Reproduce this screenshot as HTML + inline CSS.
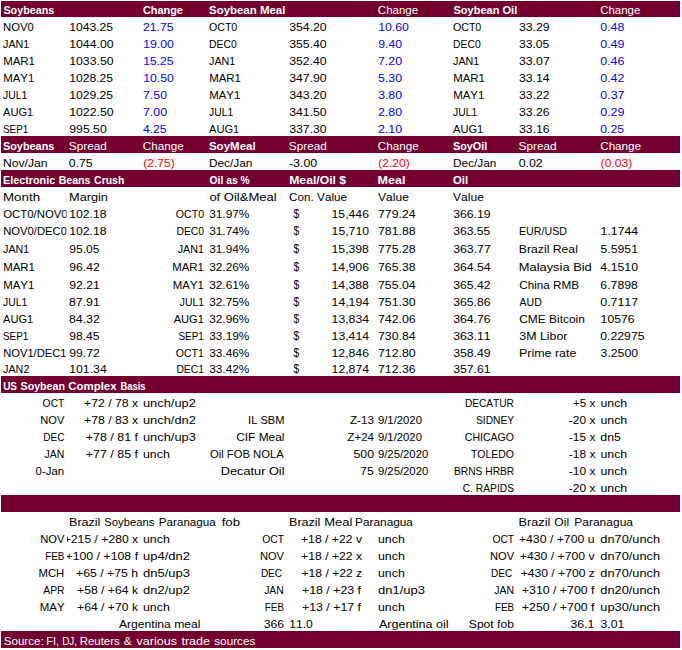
<!DOCTYPE html>
<html lang="en"><head><meta charset="utf-8"><title>Soybean Complex</title>
<style>
html,body{margin:0;padding:0;background:#fff}
svg{display:block}
text{font-family:"Liberation Sans",sans-serif;font-size:11.5px;font-kerning:none;white-space:pre}
.b{font-weight:bold}.w{fill:#fff}.u{fill:#0000ff}.r{fill:#ff0000}
</style></head><body>
<svg width="682" height="650" viewBox="0 0 682 650">
<defs><clipPath id="ca"><rect x="0" y="0" width="66.6" height="650"/></clipPath><clipPath id="cb"><rect x="67" y="0" width="615" height="650"/></clipPath></defs>
<rect x="0" y="0" width="682" height="650" fill="#fff"/>
<rect x="1" y="1" width="679" height="16" fill="#73002F"/>
<rect x="1" y="136" width="679" height="17" fill="#73002F"/>
<rect x="1" y="170" width="679" height="17" fill="#73002F"/>
<rect x="1" y="376" width="679" height="17" fill="#73002F"/>
<rect x="1" y="495" width="679" height="17" fill="#73002F"/>
<rect x="1" y="631" width="679" height="17" fill="#73002F"/>
<text x="3.44" y="14.0" textLength="50.75" lengthAdjust="spacingAndGlyphs" class="b w">Soybeans</text>
<text x="143.00" y="14.0" textLength="39.92" lengthAdjust="spacingAndGlyphs" class="b w">Change</text>
<text x="209.02" y="14.0" textLength="76.34" lengthAdjust="spacingAndGlyphs" class="b w">Soybean Meal</text>
<text x="377.87" y="14.0" textLength="40.30" lengthAdjust="spacingAndGlyphs" class="w">Change</text>
<text x="453.43" y="14.0" textLength="63.80" lengthAdjust="spacingAndGlyphs" class="b w">Soybean Oil</text>
<text x="600.17" y="14.0" textLength="40.19" lengthAdjust="spacingAndGlyphs" class="w">Change</text>
<text x="3.04" y="31.0" textLength="30.75" lengthAdjust="spacingAndGlyphs">NOV0</text>
<text x="69.23" y="31.0" textLength="43.91" lengthAdjust="spacingAndGlyphs">1043.25</text>
<text x="142.99" y="31.0" textLength="30.48" lengthAdjust="spacingAndGlyphs" class="u">21.75</text>
<text x="208.97" y="31.0" textLength="28.30" lengthAdjust="spacingAndGlyphs">OCT0</text>
<text x="289.15" y="31.0" textLength="37.57" lengthAdjust="spacingAndGlyphs">354.20</text>
<text x="378.22" y="31.0" textLength="30.66" lengthAdjust="spacingAndGlyphs" class="u">10.60</text>
<text x="452.97" y="31.0" textLength="28.30" lengthAdjust="spacingAndGlyphs">OCT0</text>
<text x="518.95" y="31.0" textLength="30.72" lengthAdjust="spacingAndGlyphs">33.29</text>
<text x="600.26" y="31.0" textLength="24.05" lengthAdjust="spacingAndGlyphs" class="u">0.48</text>
<text x="3.05" y="48.0" textLength="26.27" lengthAdjust="spacingAndGlyphs">JAN1</text>
<text x="69.22" y="48.0" textLength="44.34" lengthAdjust="spacingAndGlyphs">1044.00</text>
<text x="143.22" y="48.0" textLength="30.66" lengthAdjust="spacingAndGlyphs" class="u">19.00</text>
<text x="209.06" y="48.0" textLength="27.63" lengthAdjust="spacingAndGlyphs">DEC0</text>
<text x="289.15" y="48.0" textLength="37.57" lengthAdjust="spacingAndGlyphs">355.40</text>
<text x="378.28" y="48.0" textLength="23.76" lengthAdjust="spacingAndGlyphs" class="u">9.40</text>
<text x="453.06" y="48.0" textLength="27.63" lengthAdjust="spacingAndGlyphs">DEC0</text>
<text x="518.96" y="48.0" textLength="30.31" lengthAdjust="spacingAndGlyphs">33.05</text>
<text x="600.26" y="48.0" textLength="24.19" lengthAdjust="spacingAndGlyphs" class="u">0.49</text>
<text x="3.15" y="65.0" textLength="31.82" lengthAdjust="spacingAndGlyphs">MAR1</text>
<text x="69.22" y="65.0" textLength="44.34" lengthAdjust="spacingAndGlyphs">1033.50</text>
<text x="143.23" y="65.0" textLength="30.23" lengthAdjust="spacingAndGlyphs" class="u">15.25</text>
<text x="209.05" y="65.0" textLength="26.27" lengthAdjust="spacingAndGlyphs">JAN1</text>
<text x="289.15" y="65.0" textLength="37.57" lengthAdjust="spacingAndGlyphs">352.40</text>
<text x="378.00" y="65.0" textLength="24.04" lengthAdjust="spacingAndGlyphs" class="u">7.20</text>
<text x="453.05" y="65.0" textLength="26.27" lengthAdjust="spacingAndGlyphs">JAN1</text>
<text x="518.95" y="65.0" textLength="30.79" lengthAdjust="spacingAndGlyphs">33.07</text>
<text x="600.26" y="65.0" textLength="24.13" lengthAdjust="spacingAndGlyphs" class="u">0.46</text>
<text x="3.15" y="82.0" textLength="31.10" lengthAdjust="spacingAndGlyphs">MAY1</text>
<text x="69.23" y="82.0" textLength="43.91" lengthAdjust="spacingAndGlyphs">1028.25</text>
<text x="143.22" y="82.0" textLength="30.66" lengthAdjust="spacingAndGlyphs" class="u">10.50</text>
<text x="209.15" y="82.0" textLength="31.82" lengthAdjust="spacingAndGlyphs">MAR1</text>
<text x="289.15" y="82.0" textLength="37.57" lengthAdjust="spacingAndGlyphs">347.90</text>
<text x="378.11" y="82.0" textLength="23.93" lengthAdjust="spacingAndGlyphs" class="u">5.30</text>
<text x="453.15" y="82.0" textLength="31.82" lengthAdjust="spacingAndGlyphs">MAR1</text>
<text x="518.95" y="82.0" textLength="30.74" lengthAdjust="spacingAndGlyphs">33.14</text>
<text x="600.26" y="82.0" textLength="24.11" lengthAdjust="spacingAndGlyphs" class="u">0.42</text>
<text x="3.06" y="99.0" textLength="24.16" lengthAdjust="spacingAndGlyphs">JUL1</text>
<text x="69.23" y="99.0" textLength="43.91" lengthAdjust="spacingAndGlyphs">1029.25</text>
<text x="143.00" y="99.0" textLength="24.04" lengthAdjust="spacingAndGlyphs" class="u">7.50</text>
<text x="209.15" y="99.0" textLength="31.10" lengthAdjust="spacingAndGlyphs">MAY1</text>
<text x="289.15" y="99.0" textLength="37.57" lengthAdjust="spacingAndGlyphs">343.20</text>
<text x="378.15" y="99.0" textLength="23.89" lengthAdjust="spacingAndGlyphs" class="u">3.80</text>
<text x="453.15" y="99.0" textLength="31.10" lengthAdjust="spacingAndGlyphs">MAY1</text>
<text x="518.95" y="99.0" textLength="30.64" lengthAdjust="spacingAndGlyphs">33.22</text>
<text x="600.26" y="99.0" textLength="24.25" lengthAdjust="spacingAndGlyphs" class="u">0.37</text>
<text x="3.03" y="116.0" textLength="30.27" lengthAdjust="spacingAndGlyphs">AUG1</text>
<text x="69.22" y="116.0" textLength="44.34" lengthAdjust="spacingAndGlyphs">1022.50</text>
<text x="143.00" y="116.0" textLength="24.04" lengthAdjust="spacingAndGlyphs" class="u">7.00</text>
<text x="209.06" y="116.0" textLength="24.16" lengthAdjust="spacingAndGlyphs">JUL1</text>
<text x="289.15" y="116.0" textLength="37.57" lengthAdjust="spacingAndGlyphs">341.50</text>
<text x="377.98" y="116.0" textLength="24.07" lengthAdjust="spacingAndGlyphs" class="u">2.80</text>
<text x="453.06" y="116.0" textLength="24.16" lengthAdjust="spacingAndGlyphs">JUL1</text>
<text x="518.95" y="116.0" textLength="30.67" lengthAdjust="spacingAndGlyphs">33.26</text>
<text x="600.26" y="116.0" textLength="24.19" lengthAdjust="spacingAndGlyphs" class="u">0.29</text>
<text x="2.91" y="133.0" textLength="25.37" lengthAdjust="spacingAndGlyphs">SEP1</text>
<text x="69.28" y="133.0" textLength="37.44" lengthAdjust="spacingAndGlyphs">995.50</text>
<text x="142.95" y="133.0" textLength="23.68" lengthAdjust="spacingAndGlyphs" class="u">4.25</text>
<text x="209.03" y="133.0" textLength="30.27" lengthAdjust="spacingAndGlyphs">AUG1</text>
<text x="289.15" y="133.0" textLength="37.57" lengthAdjust="spacingAndGlyphs">337.30</text>
<text x="377.98" y="133.0" textLength="24.07" lengthAdjust="spacingAndGlyphs" class="u">2.10</text>
<text x="453.03" y="133.0" textLength="30.27" lengthAdjust="spacingAndGlyphs">AUG1</text>
<text x="518.95" y="133.0" textLength="30.67" lengthAdjust="spacingAndGlyphs">33.16</text>
<text x="600.27" y="133.0" textLength="23.77" lengthAdjust="spacingAndGlyphs" class="u">0.25</text>
<text x="2.93" y="150.0" textLength="51.42" lengthAdjust="spacingAndGlyphs" class="b w">Soybeans</text>
<text x="68.82" y="150.0" textLength="37.99" lengthAdjust="spacingAndGlyphs" class="w">Spread</text>
<text x="142.84" y="150.0" textLength="40.80" lengthAdjust="spacingAndGlyphs" class="w">Change</text>
<text x="208.92" y="150.0" textLength="46.79" lengthAdjust="spacingAndGlyphs" class="b w">SoyMeal</text>
<text x="288.82" y="150.0" textLength="37.99" lengthAdjust="spacingAndGlyphs" class="w">Spread</text>
<text x="377.84" y="150.0" textLength="40.80" lengthAdjust="spacingAndGlyphs" class="w">Change</text>
<text x="452.93" y="150.0" textLength="34.42" lengthAdjust="spacingAndGlyphs" class="b w">SoyOil</text>
<text x="518.62" y="150.0" textLength="37.99" lengthAdjust="spacingAndGlyphs" class="w">Spread</text>
<text x="600.24" y="150.0" textLength="40.80" lengthAdjust="spacingAndGlyphs" class="w">Change</text>
<text x="2.96" y="167.0" textLength="44.68" lengthAdjust="spacingAndGlyphs">Nov/Jan</text>
<text x="68.87" y="167.0" textLength="23.77" lengthAdjust="spacingAndGlyphs">0.75</text>
<text x="143.23" y="167.0" textLength="31.63" lengthAdjust="spacingAndGlyphs" class="r">(2.75)</text>
<text x="208.93" y="167.0" textLength="43.50" lengthAdjust="spacingAndGlyphs">Dec/Jan</text>
<text x="288.94" y="167.0" textLength="28.24" lengthAdjust="spacingAndGlyphs">-3.00</text>
<text x="378.23" y="167.0" textLength="31.63" lengthAdjust="spacingAndGlyphs" class="r">(2.20)</text>
<text x="452.93" y="167.0" textLength="43.50" lengthAdjust="spacingAndGlyphs">Dec/Jan</text>
<text x="518.66" y="167.0" textLength="24.11" lengthAdjust="spacingAndGlyphs">0.02</text>
<text x="600.63" y="167.0" textLength="31.63" lengthAdjust="spacingAndGlyphs" class="r">(0.03)</text>
<text y="184" class="b w"><tspan x="3.03" textLength="52.14" lengthAdjust="spacingAndGlyphs">Electronic</tspan> <tspan x="58.64" textLength="31.84" lengthAdjust="spacingAndGlyphs">Beans</tspan> <tspan x="94.12" textLength="30.18" lengthAdjust="spacingAndGlyphs">Crush</tspan></text>
<text x="209.53" y="184.0" textLength="40.20" lengthAdjust="spacingAndGlyphs" class="b w">Oil as %</text>
<text x="289.23" y="184.0" textLength="56.89" lengthAdjust="spacingAndGlyphs" class="b w">Meal/Oil $</text>
<text x="377.61" y="184.0" textLength="27.93" lengthAdjust="spacingAndGlyphs" class="b w">Meal</text>
<text x="452.88" y="184.0" textLength="15.17" lengthAdjust="spacingAndGlyphs" class="b w">Oil</text>
<text x="2.99" y="201.0" textLength="37.14" lengthAdjust="spacingAndGlyphs">Month</text>
<text x="69.04" y="201.0" textLength="38.93" lengthAdjust="spacingAndGlyphs">Margin</text>
<text x="209.40" y="201.0" textLength="67.22" lengthAdjust="spacingAndGlyphs">of Oil&amp;Meal</text>
<text x="289.05" y="201.0" textLength="58.02" lengthAdjust="spacingAndGlyphs">Con. Value</text>
<text x="377.99" y="201.0" textLength="30.87" lengthAdjust="spacingAndGlyphs">Value</text>
<text x="452.99" y="201.0" textLength="30.87" lengthAdjust="spacingAndGlyphs">Value</text>
<text x="3.21" y="218.0" textLength="64.48" lengthAdjust="spacingAndGlyphs" clip-path="url(#ca)">OCT0/NOV0</text>
<text x="69.22" y="218.0" textLength="37.35" lengthAdjust="spacingAndGlyphs">102.18</text>
<text x="175.77" y="218.0" textLength="28.30" lengthAdjust="spacingAndGlyphs">OCT0</text>
<text x="209.17" y="218.0" textLength="40.22" lengthAdjust="spacingAndGlyphs">31.97%</text>
<text x="293.44" y="218.0" textLength="5.78" lengthAdjust="spacingAndGlyphs" style="font-size:13.5px">$</text>
<text x="331.58" y="218.0" textLength="37.39" lengthAdjust="spacingAndGlyphs">15,446</text>
<text x="378.01" y="218.0" textLength="37.72" lengthAdjust="spacingAndGlyphs">779.24</text>
<text x="453.15" y="218.0" textLength="37.56" lengthAdjust="spacingAndGlyphs">366.19</text>
<text x="3.23" y="235.0" textLength="63.76" lengthAdjust="spacingAndGlyphs" clip-path="url(#ca)">NOV0/DEC0</text>
<text x="69.22" y="235.0" textLength="37.35" lengthAdjust="spacingAndGlyphs">102.18</text>
<text x="176.43" y="235.0" textLength="27.63" lengthAdjust="spacingAndGlyphs">DEC0</text>
<text x="209.17" y="235.0" textLength="40.22" lengthAdjust="spacingAndGlyphs">31.74%</text>
<text x="293.44" y="235.0" textLength="5.78" lengthAdjust="spacingAndGlyphs" style="font-size:13.5px">$</text>
<text x="331.58" y="235.0" textLength="37.46" lengthAdjust="spacingAndGlyphs">15,710</text>
<text x="378.01" y="235.0" textLength="37.58" lengthAdjust="spacingAndGlyphs">781.88</text>
<text x="453.16" y="235.0" textLength="37.15" lengthAdjust="spacingAndGlyphs">363.55</text>
<text x="3.05" y="253.0" textLength="26.27" lengthAdjust="spacingAndGlyphs" clip-path="url(#ca)">JAN1</text>
<text x="69.29" y="253.0" textLength="30.17" lengthAdjust="spacingAndGlyphs">95.05</text>
<text x="177.65" y="253.0" textLength="26.27" lengthAdjust="spacingAndGlyphs">JAN1</text>
<text x="209.17" y="253.0" textLength="40.22" lengthAdjust="spacingAndGlyphs">31.94%</text>
<text x="293.44" y="253.0" textLength="5.78" lengthAdjust="spacingAndGlyphs" style="font-size:13.5px">$</text>
<text x="331.58" y="253.0" textLength="37.31" lengthAdjust="spacingAndGlyphs">15,398</text>
<text x="378.01" y="253.0" textLength="37.58" lengthAdjust="spacingAndGlyphs">775.28</text>
<text x="453.15" y="253.0" textLength="37.63" lengthAdjust="spacingAndGlyphs">363.77</text>
<text x="3.15" y="271.0" textLength="31.82" lengthAdjust="spacingAndGlyphs" clip-path="url(#ca)">MAR1</text>
<text x="69.28" y="271.0" textLength="30.51" lengthAdjust="spacingAndGlyphs">96.42</text>
<text x="172.14" y="271.0" textLength="31.82" lengthAdjust="spacingAndGlyphs">MAR1</text>
<text x="209.17" y="271.0" textLength="40.22" lengthAdjust="spacingAndGlyphs">32.26%</text>
<text x="293.44" y="271.0" textLength="5.78" lengthAdjust="spacingAndGlyphs" style="font-size:13.5px">$</text>
<text x="331.58" y="271.0" textLength="37.39" lengthAdjust="spacingAndGlyphs">14,906</text>
<text x="378.01" y="271.0" textLength="37.58" lengthAdjust="spacingAndGlyphs">765.38</text>
<text x="453.15" y="271.0" textLength="37.58" lengthAdjust="spacingAndGlyphs">364.54</text>
<text x="3.15" y="289.0" textLength="31.10" lengthAdjust="spacingAndGlyphs" clip-path="url(#ca)">MAY1</text>
<text x="69.28" y="289.0" textLength="30.46" lengthAdjust="spacingAndGlyphs">92.21</text>
<text x="172.86" y="289.0" textLength="31.10" lengthAdjust="spacingAndGlyphs">MAY1</text>
<text x="209.17" y="289.0" textLength="40.22" lengthAdjust="spacingAndGlyphs">32.61%</text>
<text x="293.44" y="289.0" textLength="5.78" lengthAdjust="spacingAndGlyphs" style="font-size:13.5px">$</text>
<text x="331.58" y="289.0" textLength="37.31" lengthAdjust="spacingAndGlyphs">14,388</text>
<text x="378.01" y="289.0" textLength="37.72" lengthAdjust="spacingAndGlyphs">755.04</text>
<text x="453.15" y="289.0" textLength="37.48" lengthAdjust="spacingAndGlyphs">365.42</text>
<text x="3.06" y="306.0" textLength="24.16" lengthAdjust="spacingAndGlyphs" clip-path="url(#ca)">JUL1</text>
<text x="69.00" y="306.0" textLength="30.75" lengthAdjust="spacingAndGlyphs">87.91</text>
<text x="179.74" y="306.0" textLength="24.16" lengthAdjust="spacingAndGlyphs">JUL1</text>
<text x="209.17" y="306.0" textLength="40.22" lengthAdjust="spacingAndGlyphs">32.75%</text>
<text x="293.44" y="306.0" textLength="5.78" lengthAdjust="spacingAndGlyphs" style="font-size:13.5px">$</text>
<text x="331.58" y="306.0" textLength="37.46" lengthAdjust="spacingAndGlyphs">14,194</text>
<text x="378.01" y="306.0" textLength="37.72" lengthAdjust="spacingAndGlyphs">751.30</text>
<text x="453.15" y="306.0" textLength="37.51" lengthAdjust="spacingAndGlyphs">365.86</text>
<text x="3.03" y="323.0" textLength="30.27" lengthAdjust="spacingAndGlyphs" clip-path="url(#ca)">AUG1</text>
<text x="69.00" y="323.0" textLength="30.80" lengthAdjust="spacingAndGlyphs">84.32</text>
<text x="173.67" y="323.0" textLength="30.27" lengthAdjust="spacingAndGlyphs">AUG1</text>
<text x="209.17" y="323.0" textLength="40.22" lengthAdjust="spacingAndGlyphs">32.96%</text>
<text x="293.44" y="323.0" textLength="5.78" lengthAdjust="spacingAndGlyphs" style="font-size:13.5px">$</text>
<text x="331.58" y="323.0" textLength="37.46" lengthAdjust="spacingAndGlyphs">13,834</text>
<text x="378.01" y="323.0" textLength="37.66" lengthAdjust="spacingAndGlyphs">742.06</text>
<text x="453.15" y="323.0" textLength="37.51" lengthAdjust="spacingAndGlyphs">364.76</text>
<text x="2.91" y="340.0" textLength="25.37" lengthAdjust="spacingAndGlyphs" clip-path="url(#ca)">SEP1</text>
<text x="69.29" y="340.0" textLength="30.17" lengthAdjust="spacingAndGlyphs">98.45</text>
<text x="178.51" y="340.0" textLength="25.37" lengthAdjust="spacingAndGlyphs">SEP1</text>
<text x="209.17" y="340.0" textLength="40.22" lengthAdjust="spacingAndGlyphs">33.19%</text>
<text x="293.44" y="340.0" textLength="5.78" lengthAdjust="spacingAndGlyphs" style="font-size:13.5px">$</text>
<text x="331.58" y="340.0" textLength="37.46" lengthAdjust="spacingAndGlyphs">13,414</text>
<text x="378.01" y="340.0" textLength="37.72" lengthAdjust="spacingAndGlyphs">730.84</text>
<text x="453.15" y="340.0" textLength="37.43" lengthAdjust="spacingAndGlyphs">363.11</text>
<text x="3.23" y="357.0" textLength="63.26" lengthAdjust="spacingAndGlyphs" clip-path="url(#ca)">NOV1/DEC1</text>
<text x="69.28" y="357.0" textLength="30.51" lengthAdjust="spacingAndGlyphs">99.72</text>
<text x="175.76" y="357.0" textLength="28.16" lengthAdjust="spacingAndGlyphs">OCT1</text>
<text x="209.17" y="357.0" textLength="40.22" lengthAdjust="spacingAndGlyphs">33.46%</text>
<text x="293.44" y="357.0" textLength="5.78" lengthAdjust="spacingAndGlyphs" style="font-size:13.5px">$</text>
<text x="331.58" y="357.0" textLength="37.39" lengthAdjust="spacingAndGlyphs">12,846</text>
<text x="378.01" y="357.0" textLength="37.72" lengthAdjust="spacingAndGlyphs">712.80</text>
<text x="453.15" y="357.0" textLength="37.56" lengthAdjust="spacingAndGlyphs">358.49</text>
<text x="3.05" y="373.0" textLength="26.32" lengthAdjust="spacingAndGlyphs" clip-path="url(#ca)">JAN2</text>
<text x="69.22" y="373.0" textLength="37.50" lengthAdjust="spacingAndGlyphs">101.34</text>
<text x="176.43" y="373.0" textLength="27.48" lengthAdjust="spacingAndGlyphs">DEC1</text>
<text x="209.17" y="373.0" textLength="40.22" lengthAdjust="spacingAndGlyphs">33.42%</text>
<text x="293.44" y="373.0" textLength="5.78" lengthAdjust="spacingAndGlyphs" style="font-size:13.5px">$</text>
<text x="331.58" y="373.0" textLength="37.46" lengthAdjust="spacingAndGlyphs">12,874</text>
<text x="378.01" y="373.0" textLength="37.66" lengthAdjust="spacingAndGlyphs">712.36</text>
<text x="453.15" y="373.0" textLength="37.43" lengthAdjust="spacingAndGlyphs">357.61</text>
<text x="518.98" y="235.0" textLength="47.98" lengthAdjust="spacingAndGlyphs">EUR/USD</text>
<text x="600.62" y="235.0" textLength="37.50" lengthAdjust="spacingAndGlyphs">1.1744</text>
<text x="518.85" y="253.0" textLength="59.02" lengthAdjust="spacingAndGlyphs">Brazil Real</text>
<text x="600.51" y="253.0" textLength="37.47" lengthAdjust="spacingAndGlyphs">5.5951</text>
<text x="518.79" y="271.0" textLength="72.99" lengthAdjust="spacingAndGlyphs">Malaysia Bid</text>
<text x="600.34" y="271.0" textLength="37.79" lengthAdjust="spacingAndGlyphs">4.1510</text>
<text x="519.26" y="289.0" textLength="59.71" lengthAdjust="spacingAndGlyphs">China RMB</text>
<text x="600.37" y="289.0" textLength="37.61" lengthAdjust="spacingAndGlyphs">6.7898</text>
<text x="519.53" y="306.0" textLength="22.22" lengthAdjust="spacingAndGlyphs">AUD</text>
<text x="600.26" y="306.0" textLength="37.92" lengthAdjust="spacingAndGlyphs">0.7117</text>
<text x="519.24" y="323.0" textLength="65.68" lengthAdjust="spacingAndGlyphs">CME Bitcoin</text>
<text x="600.62" y="323.0" textLength="34.03" lengthAdjust="spacingAndGlyphs">10576</text>
<text x="519.38" y="340.0" textLength="48.08" lengthAdjust="spacingAndGlyphs">3M Libor</text>
<text x="600.27" y="340.0" textLength="44.29" lengthAdjust="spacingAndGlyphs">0.22975</text>
<text x="519.03" y="357.0" textLength="57.37" lengthAdjust="spacingAndGlyphs">Prime rate</text>
<text x="600.55" y="357.0" textLength="37.57" lengthAdjust="spacingAndGlyphs">3.2500</text>
<text y="390" class="b w"><tspan x="3.15" textLength="13.89" lengthAdjust="spacingAndGlyphs">US</tspan> <tspan x="20.54" textLength="44.37" lengthAdjust="spacingAndGlyphs">Soybean</tspan> <tspan x="68.28" textLength="48.35" lengthAdjust="spacingAndGlyphs">Complex</tspan> <tspan x="120.42" textLength="25.22" lengthAdjust="spacingAndGlyphs">Basis</tspan></text>
<text x="42.61" y="407.0" textLength="21.77" lengthAdjust="spacingAndGlyphs">OCT</text>
<text x="84.00" y="407.0" textLength="54.19" lengthAdjust="spacingAndGlyphs">+72 / 78 x</text>
<text x="142.98" y="407.0" textLength="52.93" lengthAdjust="spacingAndGlyphs">unch/up2</text>
<text x="464.92" y="407.0" textLength="49.00" lengthAdjust="spacingAndGlyphs">DECATUR</text>
<text x="572.83" y="407.0" textLength="22.55" lengthAdjust="spacingAndGlyphs">+5 x</text>
<text x="600.41" y="407.0" textLength="26.75" lengthAdjust="spacingAndGlyphs">unch</text>
<text x="40.19" y="424.0" textLength="24.12" lengthAdjust="spacingAndGlyphs">NOV</text>
<text x="84.00" y="424.0" textLength="54.19" lengthAdjust="spacingAndGlyphs">+78 / 83 x</text>
<text x="142.98" y="424.0" textLength="52.93" lengthAdjust="spacingAndGlyphs">unch/dn2</text>
<text x="248.12" y="424.0" textLength="36.44" lengthAdjust="spacingAndGlyphs">IL SBM</text>
<text x="349.94" y="424.0" textLength="23.97" lengthAdjust="spacingAndGlyphs">Z-13</text>
<text x="377.92" y="424.0" textLength="44.07" lengthAdjust="spacingAndGlyphs" style="font-size:10px">9/1/2020</text>
<text x="475.95" y="424.0" textLength="38.27" lengthAdjust="spacingAndGlyphs">SIDNEY</text>
<text x="568.84" y="424.0" textLength="26.54" lengthAdjust="spacingAndGlyphs">-20 x</text>
<text x="600.41" y="424.0" textLength="26.75" lengthAdjust="spacingAndGlyphs">unch</text>
<text x="43.28" y="441.0" textLength="21.14" lengthAdjust="spacingAndGlyphs">DEC</text>
<text x="85.70" y="441.0" textLength="52.39" lengthAdjust="spacingAndGlyphs">+78 / 81 f</text>
<text x="142.98" y="441.0" textLength="52.90" lengthAdjust="spacingAndGlyphs">unch/up3</text>
<text x="236.15" y="441.0" textLength="48.30" lengthAdjust="spacingAndGlyphs">CIF Meal</text>
<text x="347.37" y="441.0" textLength="26.65" lengthAdjust="spacingAndGlyphs">Z+24</text>
<text x="377.92" y="441.0" textLength="44.07" lengthAdjust="spacingAndGlyphs" style="font-size:10px">9/1/2020</text>
<text x="464.81" y="441.0" textLength="49.23" lengthAdjust="spacingAndGlyphs">CHICAGO</text>
<text x="568.84" y="441.0" textLength="26.54" lengthAdjust="spacingAndGlyphs">-15 x</text>
<text x="600.36" y="441.0" textLength="20.63" lengthAdjust="spacingAndGlyphs">dn5</text>
<text x="44.46" y="458.0" textLength="19.72" lengthAdjust="spacingAndGlyphs">JAN</text>
<text x="85.70" y="458.0" textLength="52.39" lengthAdjust="spacingAndGlyphs">+77 / 85 f</text>
<text x="143.01" y="458.0" textLength="26.75" lengthAdjust="spacingAndGlyphs">unch</text>
<text x="210.02" y="458.0" textLength="73.65" lengthAdjust="spacingAndGlyphs">Oil FOB NOLA</text>
<text x="353.51" y="458.0" textLength="20.53" lengthAdjust="spacingAndGlyphs">500</text>
<text x="377.92" y="458.0" textLength="50.37" lengthAdjust="spacingAndGlyphs" style="font-size:10px">9/25/2020</text>
<text x="470.98" y="458.0" textLength="43.05" lengthAdjust="spacingAndGlyphs">TOLEDO</text>
<text x="568.84" y="458.0" textLength="26.54" lengthAdjust="spacingAndGlyphs">-18 x</text>
<text x="600.41" y="458.0" textLength="26.75" lengthAdjust="spacingAndGlyphs">unch</text>
<text x="35.58" y="475.0" textLength="28.65" lengthAdjust="spacingAndGlyphs">0-Jan</text>
<text x="220.81" y="475.0" textLength="63.70" lengthAdjust="spacingAndGlyphs">Decatur Oil</text>
<text x="360.26" y="475.0" textLength="13.35" lengthAdjust="spacingAndGlyphs">75</text>
<text x="377.92" y="475.0" textLength="50.37" lengthAdjust="spacingAndGlyphs" style="font-size:10px">9/25/2020</text>
<text x="453.96" y="475.0" textLength="60.32" lengthAdjust="spacingAndGlyphs">BRNS HRBR</text>
<text x="568.84" y="475.0" textLength="26.54" lengthAdjust="spacingAndGlyphs">-10 x</text>
<text x="600.41" y="475.0" textLength="26.75" lengthAdjust="spacingAndGlyphs">unch</text>
<text x="462.72" y="492.0" textLength="51.28" lengthAdjust="spacingAndGlyphs">C. RAPIDS</text>
<text x="568.84" y="492.0" textLength="26.54" lengthAdjust="spacingAndGlyphs">-20 x</text>
<text x="600.41" y="492.0" textLength="26.75" lengthAdjust="spacingAndGlyphs">unch</text>
<text y="526"><tspan x="69.02" textLength="31.37" lengthAdjust="spacingAndGlyphs">Brazil</tspan> <tspan x="104.34" textLength="50.02" lengthAdjust="spacingAndGlyphs">Soybeans</tspan> <tspan x="158.80" textLength="56.95" lengthAdjust="spacingAndGlyphs">Paranagua</tspan> <tspan x="221.66" textLength="18.34" lengthAdjust="spacingAndGlyphs">fob</tspan></text>
<text y="526"><tspan x="289.02" textLength="31.37" lengthAdjust="spacingAndGlyphs">Brazil</tspan> <tspan x="324.28" textLength="28.24" lengthAdjust="spacingAndGlyphs">Meal</tspan> <tspan x="355.08" textLength="57.87" lengthAdjust="spacingAndGlyphs">Paranagua</tspan></text>
<text y="526"><tspan x="518.51" textLength="31.79" lengthAdjust="spacingAndGlyphs">Brazil</tspan> <tspan x="554.38" textLength="14.78" lengthAdjust="spacingAndGlyphs">Oil</tspan> <tspan x="574.26" textLength="58.79" lengthAdjust="spacingAndGlyphs">Paranagua</tspan></text>
<text x="40.19" y="543.0" textLength="24.12" lengthAdjust="spacingAndGlyphs">NOV</text>
<text x="63.74" y="543.0" textLength="74.44" lengthAdjust="spacingAndGlyphs" clip-path="url(#cb)">+215 / +280 x</text>
<text x="143.01" y="543.0" textLength="26.75" lengthAdjust="spacingAndGlyphs">unch</text>
<text x="262.31" y="543.0" textLength="21.77" lengthAdjust="spacingAndGlyphs">OCT</text>
<text x="301.00" y="543.0" textLength="61.04" lengthAdjust="spacingAndGlyphs">+18 / +22 v</text>
<text x="378.01" y="543.0" textLength="26.75" lengthAdjust="spacingAndGlyphs">unch</text>
<text x="492.41" y="543.0" textLength="21.77" lengthAdjust="spacingAndGlyphs">OCT</text>
<text x="518.91" y="543.0" textLength="75.59" lengthAdjust="spacingAndGlyphs">+430 / +700 u</text>
<text x="600.35" y="543.0" textLength="59.69" lengthAdjust="spacingAndGlyphs">dn70/unch</text>
<text x="45.15" y="560.0" textLength="19.10" lengthAdjust="spacingAndGlyphs">FEB</text>
<text x="65.45" y="560.0" textLength="72.64" lengthAdjust="spacingAndGlyphs" clip-path="url(#cb)">+100 / +108 f</text>
<text x="142.97" y="560.0" textLength="47.03" lengthAdjust="spacingAndGlyphs">up4/dn2</text>
<text x="259.89" y="560.0" textLength="24.12" lengthAdjust="spacingAndGlyphs">NOV</text>
<text x="301.14" y="560.0" textLength="60.85" lengthAdjust="spacingAndGlyphs">+18 / +22 x</text>
<text x="378.01" y="560.0" textLength="26.75" lengthAdjust="spacingAndGlyphs">unch</text>
<text x="489.99" y="560.0" textLength="24.12" lengthAdjust="spacingAndGlyphs">NOV</text>
<text x="519.89" y="560.0" textLength="74.62" lengthAdjust="spacingAndGlyphs">+430 / +700 v</text>
<text x="600.35" y="560.0" textLength="59.69" lengthAdjust="spacingAndGlyphs">dn70/unch</text>
<text x="38.51" y="577.0" textLength="25.80" lengthAdjust="spacingAndGlyphs">MCH</text>
<text x="76.09" y="577.0" textLength="62.09" lengthAdjust="spacingAndGlyphs" clip-path="url(#cb)">+65 / +75 h</text>
<text x="142.94" y="577.0" textLength="47.04" lengthAdjust="spacingAndGlyphs">dn5/up3</text>
<text x="260.88" y="577.0" textLength="21.14" lengthAdjust="spacingAndGlyphs">DEC</text>
<text x="301.52" y="577.0" textLength="60.57" lengthAdjust="spacingAndGlyphs">+18 / +22 z</text>
<text x="378.01" y="577.0" textLength="26.75" lengthAdjust="spacingAndGlyphs">unch</text>
<text x="490.98" y="577.0" textLength="21.14" lengthAdjust="spacingAndGlyphs">DEC</text>
<text x="520.66" y="577.0" textLength="74.15" lengthAdjust="spacingAndGlyphs">+430 / +700 z</text>
<text x="600.35" y="577.0" textLength="59.69" lengthAdjust="spacingAndGlyphs">dn70/unch</text>
<text x="43.25" y="594.0" textLength="21.34" lengthAdjust="spacingAndGlyphs">APR</text>
<text x="77.04" y="594.0" textLength="60.98" lengthAdjust="spacingAndGlyphs" clip-path="url(#cb)">+58 / +64 k</text>
<text x="142.93" y="594.0" textLength="47.07" lengthAdjust="spacingAndGlyphs">dn2/up2</text>
<text x="264.16" y="594.0" textLength="19.72" lengthAdjust="spacingAndGlyphs">JAN</text>
<text x="301.96" y="594.0" textLength="59.06" lengthAdjust="spacingAndGlyphs">+18 / +23 f</text>
<text x="377.94" y="594.0" textLength="47.04" lengthAdjust="spacingAndGlyphs">dn1/up3</text>
<text x="494.26" y="594.0" textLength="19.72" lengthAdjust="spacingAndGlyphs">JAN</text>
<text x="521.85" y="594.0" textLength="72.64" lengthAdjust="spacingAndGlyphs">+310 / +700 f</text>
<text x="600.35" y="594.0" textLength="59.69" lengthAdjust="spacingAndGlyphs">dn20/unch</text>
<text x="39.69" y="611.0" textLength="24.86" lengthAdjust="spacingAndGlyphs">MAY</text>
<text x="77.04" y="611.0" textLength="60.98" lengthAdjust="spacingAndGlyphs" clip-path="url(#cb)">+64 / +70 k</text>
<text x="143.01" y="611.0" textLength="26.75" lengthAdjust="spacingAndGlyphs">unch</text>
<text x="264.85" y="611.0" textLength="19.10" lengthAdjust="spacingAndGlyphs">FEB</text>
<text x="301.96" y="611.0" textLength="59.06" lengthAdjust="spacingAndGlyphs">+13 / +17 f</text>
<text x="378.01" y="611.0" textLength="26.75" lengthAdjust="spacingAndGlyphs">unch</text>
<text x="494.95" y="611.0" textLength="19.10" lengthAdjust="spacingAndGlyphs">FEB</text>
<text x="521.85" y="611.0" textLength="72.64" lengthAdjust="spacingAndGlyphs">+250 / +700 f</text>
<text x="600.38" y="611.0" textLength="59.65" lengthAdjust="spacingAndGlyphs">up30/unch</text>
<text x="118.93" y="628.0" textLength="81.64" lengthAdjust="spacingAndGlyphs">Argentina meal</text>
<text x="263.65" y="628.0" textLength="20.43" lengthAdjust="spacingAndGlyphs">366</text>
<text x="289.33" y="628.0" textLength="23.49" lengthAdjust="spacingAndGlyphs">11.0</text>
<text x="378.93" y="628.0" textLength="69.66" lengthAdjust="spacingAndGlyphs">Argentina oil</text>
<text x="468.80" y="628.0" textLength="45.16" lengthAdjust="spacingAndGlyphs">Spot fob</text>
<text x="570.45" y="628.0" textLength="23.75" lengthAdjust="spacingAndGlyphs">36.1</text>
<text x="600.55" y="628.0" textLength="23.75" lengthAdjust="spacingAndGlyphs">3.01</text>
<text y="645" class="w"><tspan x="3.72" textLength="39.99" lengthAdjust="spacingAndGlyphs">Source:</tspan> <tspan x="46.24" textLength="12.90" lengthAdjust="spacingAndGlyphs">FI,</tspan> <tspan x="62.24" textLength="14.80" lengthAdjust="spacingAndGlyphs">DJ,</tspan> <tspan x="79.71" textLength="40.05" lengthAdjust="spacingAndGlyphs">Reuters</tspan> <tspan x="123.83" textLength="7.90" lengthAdjust="spacingAndGlyphs">&amp;</tspan> <tspan x="136.61" textLength="40.40" lengthAdjust="spacingAndGlyphs">various</tspan> <tspan x="181.46" textLength="28.55" lengthAdjust="spacingAndGlyphs">trade</tspan> <tspan x="214.22" textLength="41.15" lengthAdjust="spacingAndGlyphs">sources</tspan></text>
</svg>
</body></html>
